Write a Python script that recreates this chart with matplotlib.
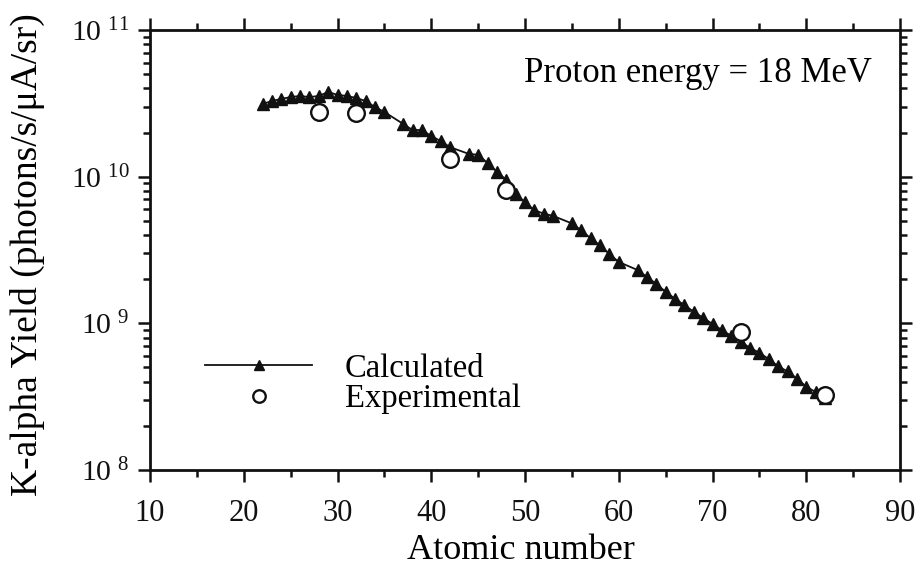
import math
import matplotlib
matplotlib.use("Agg")
import matplotlib.pyplot as plt
from matplotlib.ticker import LogLocator, MultipleLocator, FuncFormatter, NullFormatter

plt.rcParams['font.family'] = ['Liberation Serif', 'DejaVu Serif']
plt.rcParams['mathtext.fontset'] = 'custom'
plt.rcParams['mathtext.rm'] = 'Liberation Serif'

# Calculated K-alpha yields for 18 MeV protons (no Kr, Tc, Xe, Pm)
calc_z = [22, 23, 24, 25, 26, 27, 28, 29, 30, 31, 32, 33, 34, 35, 37, 38, 39,
          40, 41, 42, 44, 45, 46, 47, 48, 49, 50, 51, 52, 53, 55, 56, 57, 58,
          59, 60, 62, 63, 64, 65, 66, 67, 68, 69, 70, 71, 72, 73, 74, 75, 76, 77,
          78, 79, 80, 81, 82]
calc_yield = [3.13e10, 3.28e10, 3.39e10, 3.49e10, 3.55e10, 3.49e10, 3.55e10, 3.78e10,
              3.61e10, 3.55e10, 3.44e10, 3.28e10, 2.98e10, 2.76e10, 2.29e10,
              2.08e10, 2.08e10, 1.89e10, 1.75e10, 1.59e10, 1.43e10, 1.41e10,
              1.24e10, 1.08e10, 9.5e9, 7.6e9, 6.7e9, 5.9e9, 5.6e9, 5.4e9, 4.8e9, 4.3e9,
              3.8e9, 3.4e9, 2.97e9, 2.62e9, 2.31e9, 2.07e9, 1.86e9, 1.64e9, 1.47e9,
              1.33e9, 1.20e9, 1.09e9, 9.9e8, 9.0e8, 8.2e8, 7.5e8, 6.8e8, 6.3e8, 5.7e8,
              5.1e8, 4.7e8, 4.2e8, 3.7e8, 3.4e8, 3.1e8]

# Measured yields
exp_z = [28, 32, 42, 48, 73, 82]
exp_yield = [2.76e10, 2.72e10, 1.32e10, 8.1e9, 8.7e8, 3.25e8]

x_ticks = [10, 20, 30, 40, 50, 60, 70, 80, 90]

INK = '#111111'

fig = plt.figure(figsize=(9.15, 5.66), dpi=100)
ax = fig.add_axes([150 / 915, 96 / 566, 750 / 915, 440 / 566])

ax.plot(calc_z, calc_yield, color=INK, lw=1.3, marker='^', ms=9,
        mec=INK, mfc=INK, label='Calculated', zorder=3)
ax.plot(exp_z, exp_yield, ls='none', marker='o', ms=12, mfc='white',
        mec=INK, mew=1.7, label='Experimental', zorder=4)

ax.set_yscale('log')
ax.set_xlim(10, 90)
ax.set_ylim(1e8, 1e11)

ax.set_xticks(x_ticks)
ax.xaxis.set_minor_locator(MultipleLocator(5))
ax.yaxis.set_major_locator(LogLocator(base=10, numticks=10))
ax.yaxis.set_minor_locator(LogLocator(base=10, subs=range(2, 10), numticks=20))
ax.yaxis.set_minor_formatter(NullFormatter())
ax.yaxis.set_major_formatter(
    FuncFormatter(lambda v, p: r'$\mathregular{10^{\,\,%d}}$' % round(math.log10(v))))

ax.tick_params(which='both', direction='out', top=True, right=True,
               width=1.8, colors=INK)
ax.tick_params(which='major', length=8.6)
ax.tick_params(which='minor', length=5)
ax.tick_params(axis='x', which='major', pad=12, labelsize=22)
ax.tick_params(axis='y', which='major', pad=6, labelsize=21.5)
for s in ax.spines.values():
    s.set_linewidth(2.0)
    s.set_color(INK)

ax.set_xlabel('Atomic number', fontsize=26, va='top')
ax.xaxis.set_label_coords(0.495, -0.145)
ax.set_ylabel('K-alpha Yield (photons/s/\u03bcA/sr)', fontsize=27)
ax.yaxis.set_label_coords(-0.140, 0.49)

ax.text(0.963, 0.882, 'Proton energy = 18 MeV', transform=ax.transAxes,
        ha='right', va='baseline', fontsize=25)

ax.legend(loc='upper left', bbox_to_anchor=(0.073, 0.265), frameon=False,
          fontsize=23.5, handlelength=3.3, handletextpad=1.0, labelspacing=0.0,
          numpoints=1, borderpad=0, borderaxespad=0, markerscale=0.75)

fig.savefig('out.png', dpi=100)
